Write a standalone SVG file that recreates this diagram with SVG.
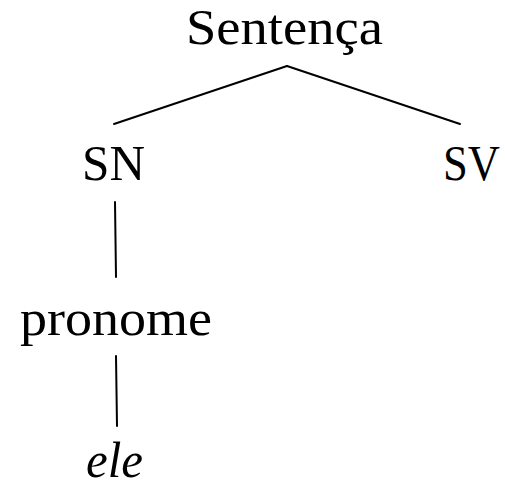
<svg xmlns="http://www.w3.org/2000/svg" width="505" height="486" viewBox="0 0 505 486">
<style>
.t{font-family:"Liberation Serif","Times New Roman",serif;font-size:50px;fill:#000}
.i{font-style:italic}
.e{stroke:#000;stroke-width:2;fill:none;stroke-linecap:round}
</style>
<rect width="505" height="486" fill="#fff"/>
<g id="connectors">
<line class="e" x1="287" y1="66" x2="114" y2="124"/>
<line class="e" x1="287" y1="66" x2="460" y2="124"/>
<line class="e" x1="115" y1="202" x2="116" y2="277"/>
<line class="e" x1="116" y1="356" x2="117" y2="426"/>
</g>
<g id="sentenca"><text class="t" x="186" y="44" textLength="197" lengthAdjust="spacingAndGlyphs">Sentença</text></g>
<g id="sn"><text class="t" x="82" y="180" textLength="63" lengthAdjust="spacingAndGlyphs">SN</text></g>
<g id="sv"><text class="t" x="443" y="180" textLength="57" lengthAdjust="spacingAndGlyphs">SV</text></g>
<g id="pronome"><text class="t" x="20" y="335" textLength="192" lengthAdjust="spacingAndGlyphs">pronome</text></g>
<g id="ele"><text class="t i" x="86" y="477" textLength="57" lengthAdjust="spacingAndGlyphs">ele</text></g>
</svg>
